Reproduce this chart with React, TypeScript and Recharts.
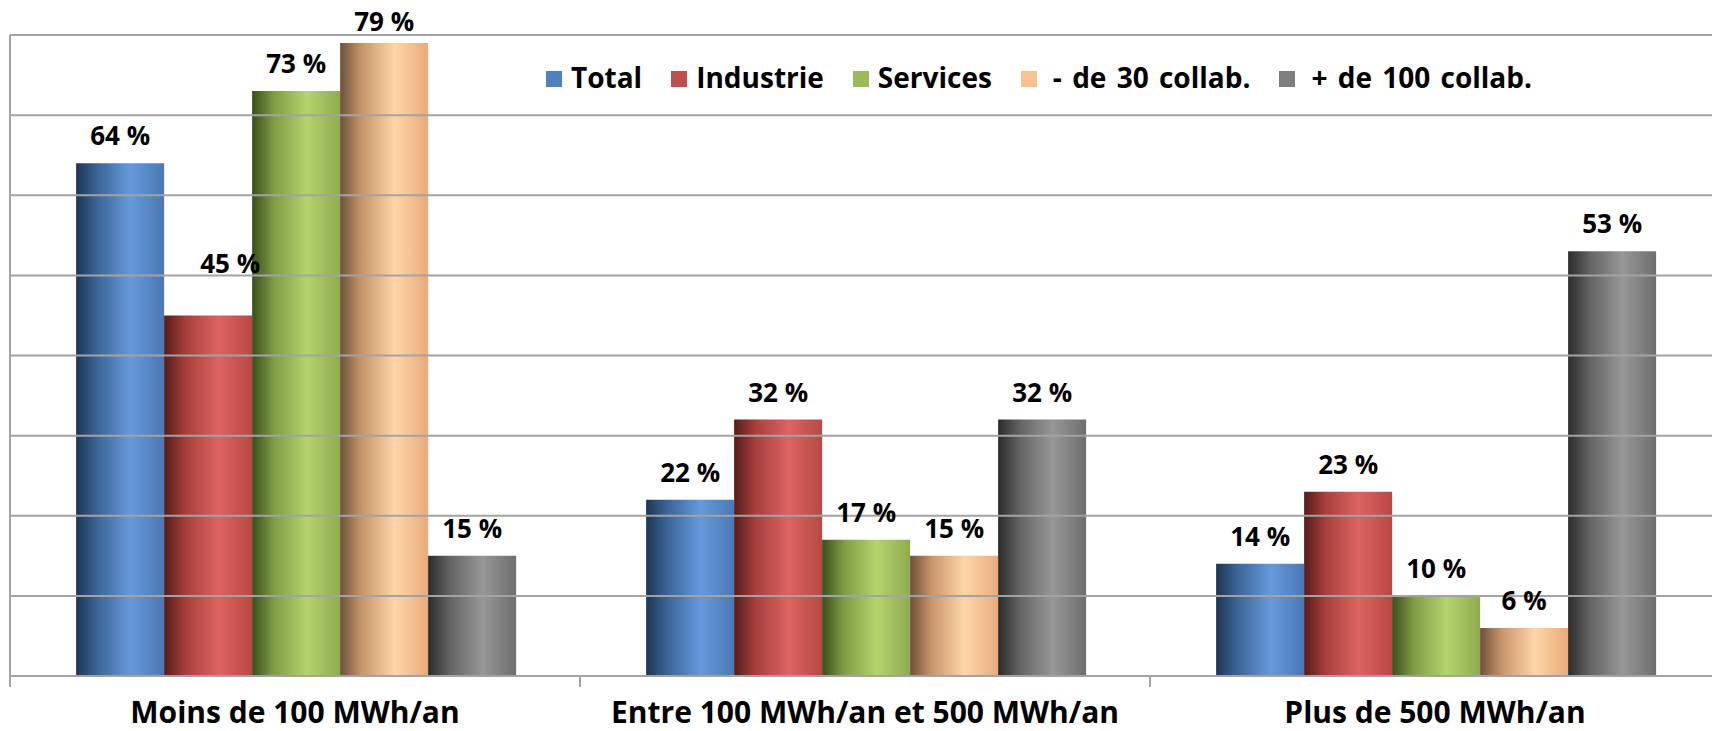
import React from "react";
import { BarChart, Bar, XAxis, YAxis, ReferenceLine, LabelList, Legend } from "recharts";

const categories = ["Moins de 100 MWh/an", "Entre 100 MWh/an et 500 MWh/an", "Plus de 500 MWh/an"];
const total = [64, 22, 14];
const industrie = [45, 32, 23];
const services = [73, 17, 10];
const moins30 = [79, 15, 6];
const plus100 = [15, 32, 53];
const seriesNames = ["Total", "Industrie", "Services", "- de 30 collab.", "+ de 100 collab."];
const seriesKeys = ["total", "industrie", "services", "moins30", "plus100"];
const yTicks = [0, 10, 20, 30, 40, 50, 60, 70, 80];

const legendColors = ["#4f81bd", "#c0504d", "#9bbb59", "#fac090", "#7f7f7f"];
const gradStops = [
  ["#1d3553", "#3d6699", "#6699dc", "#4a78b3"],
  ["#561c1b", "#a8403e", "#dc6461", "#b84845"],
  ["#3b4f1e", "#7f9d44", "#b4d46e", "#8fab4f"],
  ["#6e513b", "#c9966c", "#fed6a8", "#e9ab7b"],
  ["#2b2b2b", "#646464", "#979797", "#6e6e6e"],
];

const seriesValues = [total, industrie, services, moins30, plus100];
const data = categories.map((c, i) => {
  const row: Record<string, any> = { name: c };
  seriesKeys.forEach((k, j) => (row[k] = seriesValues[j][i]));
  return row;
});

const FONT = "'Open Sans', 'DejaVu Sans', sans-serif";
const GRID = "#a3a3a3";

// manual label nudges (as placed in the original chart)
const labelNudges: Record<string, { dx: number; dy: number }> = {
  "industrie-0": { dx: 22, dy: -24 },
  "moins30-0": { dx: 0, dy: 6 },
};

const makeLabel = (key: string) => (props: any) => {
  const { x, y, width, value, index } = props;
  const n = labelNudges[`${key}-${index}`] || { dx: 0, dy: 0 };
  return (
    <text
      x={Number(x) + Number(width) / 2 + n.dx}
      y={Number(y) - 18 + n.dy}
      textAnchor="middle"
      fontFamily={FONT}
      fontWeight={700}
      fontSize={26}
      fill="#000"
    >
      {`${value} %`}
    </text>
  );
};

const CategoryTick = (props: any) => {
  const { x, y, payload, width, visibleTicksCount } = props;
  const band = Number(width) / Number(visibleTicksCount || categories.length);
  const edge = Number(x) - band / 2;
  const axisY = Number(y) - 8;
  return (
    <g>
      {Number.isFinite(edge) && (
        <line x1={edge} x2={edge} y1={axisY} y2={axisY + 11} stroke={GRID} strokeWidth={2} />
      )}
      <text x={x} y={y} dy={39} textAnchor="middle" fontFamily={FONT} fontWeight={700} fontSize={30} fill="#000">
        {payload.value}
      </text>
    </g>
  );
};

const LegendContent = () => (
  <div style={{ display: "flex", alignItems: "center", fontFamily: FONT, fontWeight: 700, fontSize: 28, lineHeight: "28px", color: "#000", whiteSpace: "nowrap" }}>
    {seriesNames.map((n, i) => (
      <div key={n} style={{ display: "flex", alignItems: "center", marginRight: i < seriesNames.length - 1 ? 29 : 0 }}>
        <span style={{ display: "inline-block", width: 16, height: 16, background: legendColors[i], marginRight: i >= 3 ? 16 : 9, marginTop: 3 }} />
        <span style={{ wordSpacing: i >= 3 ? 3 : 0 }}>{n}</span>
      </div>
    ))}
  </div>
);

export default function App() {
  return (
    <div style={{ position: "absolute", left: 0, top: 0, width: 1712, height: 731, overflow: "hidden", background: "#fff" }}>
      <BarChart
        width={1722}
        height={731}
        data={data}
        margin={{ top: 35, right: 2, bottom: 0, left: 9 }}
        barCategoryGap="11.6%"
        barGap={0}
      >
        <defs>
          {seriesKeys.map((k, i) => (
            <linearGradient key={k} id={`grad-${k}`} x1="0" y1="0" x2="1" y2="0">
              <stop offset="0%" stopColor={gradStops[i][0]} />
              <stop offset="25%" stopColor={gradStops[i][1]} />
              <stop offset="62%" stopColor={gradStops[i][2]} />
              <stop offset="100%" stopColor={gradStops[i][3]} />
            </linearGradient>
          ))}
        </defs>
        <XAxis
          dataKey="name"
          type="category"
          height={55}
          tickLine={false}
          axisLine={{ stroke: GRID, strokeWidth: 2 }}
          tick={<CategoryTick />}
          interval={0}
        />
        <YAxis
          width={1}
          domain={[0, 80]}
          ticks={yTicks}
          tick={false}
          tickLine={false}
          axisLine={{ stroke: GRID, strokeWidth: 2 }}
        />
        {yTicks.slice(1).map((v) => (
          <ReferenceLine key={v} y={v} stroke={GRID} strokeWidth={2} ifOverflow="extendDomain" />
        ))}
        <Legend
          layout="horizontal"
          verticalAlign="middle"
          align="center"
          content={<LegendContent />}
          wrapperStyle={{ top: 63, left: 546, width: "auto", height: "auto" }}
        />
        {seriesKeys.map((k, i) => (
          <Bar key={k} dataKey={k} name={seriesNames[i]} fill={`url(#grad-${k})`} isAnimationActive={false}>
            <LabelList dataKey={k} content={makeLabel(k)} />
          </Bar>
        ))}
      </BarChart>
    </div>
  );
}
